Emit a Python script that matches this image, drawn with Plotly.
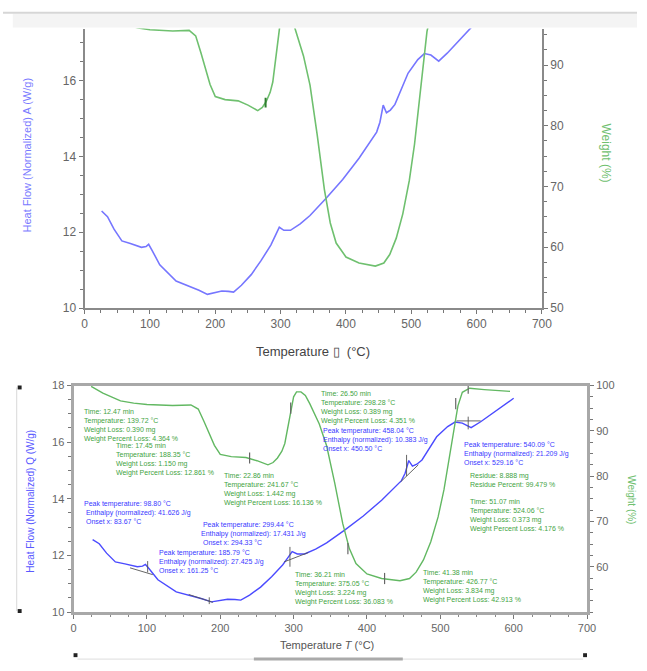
import plotly.graph_objects as go

FIG_W, FIG_H = 647, 671

# ---------------- data ----------------
temp_heat = [26, 35, 45, 57, 70, 87, 94, 98, 103, 115, 140, 160, 175, 188, 200, 210, 220, 228,
             240, 255, 270, 285, 293, 298, 305, 315, 330, 345, 370, 395, 420, 447, 452, 457,
             462, 468, 475, 495, 510, 520, 530, 542, 555, 575, 600]
heat_flow = [12.56, 12.41, 12.08, 11.77, 11.70, 11.60, 11.62, 11.68, 11.53, 11.14, 10.71, 10.58,
             10.47, 10.36, 10.40, 10.45, 10.44, 10.42, 10.60, 10.88, 11.25, 11.66, 11.95, 12.13,
             12.05, 12.05, 12.22, 12.44, 12.90, 13.39, 13.95, 14.64, 14.90, 15.35, 15.15, 15.22,
             15.37, 16.19, 16.55, 16.71, 16.67, 16.51, 16.72, 17.10, 17.55]

temp_weight = [24, 40, 64, 82, 100, 135, 160, 170, 178, 185, 192, 200, 215, 235, 250, 265, 272,
               278, 284, 288, 292, 296, 300, 304, 310, 316, 322, 335, 345, 356, 367, 376, 385,
               400, 420, 445, 458, 467, 477, 487, 497, 505, 512, 518, 524, 530, 540, 560, 595]
weight_pct = [99.8, 98.3, 96.6, 96.1, 95.8, 95.6, 95.7, 94.8, 92.0, 89.4, 86.8, 84.8, 84.3, 84.1,
              83.4, 82.5, 83.0, 84.0, 85.5, 87.2, 90.5, 94.5, 97.5, 98.6, 98.6, 97.8, 96.0, 91.5,
              86.7, 78.5, 69.5, 64.0, 60.7, 58.4, 57.4, 56.9, 57.4, 58.8, 61.5, 65.5, 71.0, 77.0,
              83.5, 90.0, 95.5, 98.5, 99.4, 99.1, 98.7]

temp_ticks = [0, 100, 200, 300, 400, 500, 600, 700]
hf_ticks_top = [10, 12, 14, 16]
hf_ticks_bottom = [10, 12, 14, 16, 18]
wt_ticks_top = [50, 60, 70, 80, 90]
wt_ticks_bottom = [60, 70, 80, 90, 100]

# analysis markers on the TGA curve
tga_mark_temp = [240, 296, 374, 424, 521, 538]
tga_mark_wt = [84.0, 95.0, 64.0, 57.4, 96.0, 99.4]
tga_mark_top_temp = [277]
tga_mark_top_wt = [83.8]

# DSC tangent / baseline construction segments
dsc_tan_temp = [77, 108, None, 101, 101, None, 157, 190, None, 185, 185, None,
                287, 320, None, 295, 295, None, 446, 470, None, 454, 454, None,
                522, 555, None, 538, 538]
dsc_tan_hf = [11.56, 11.32, None, 11.80, 11.40, None, 10.62, 10.34, None, 10.52, 10.28, None,
              11.77, 12.10, None, 12.30, 11.60, None, 14.60, 15.20, None, 15.55, 14.80, None,
              16.75, 16.75, None, 16.90, 16.45]

tga_labels = [
    "Time: 12.47 min<br>Temperature: 139.72 °C<br>Weight Loss: 0.390 mg<br>Weight Percent Loss: 4.364 %",
    "Time: 17.45 min<br>Temperature: 188.35 °C<br>Weight Loss: 1.150 mg<br>Weight Percent Loss: 12.861 %",
    "Time: 22.86 min<br>Temperature: 241.67 °C<br>Weight Loss: 1.442 mg<br>Weight Percent Loss: 16.136 %",
    "Time: 26.50 min<br>Temperature: 298.28 °C<br>Weight Loss: 0.389 mg<br>Weight Percent Loss: 4.351 %",
    "Time: 36.21 min<br>Temperature: 375.05 °C<br>Weight Loss: 3.224 mg<br>Weight Percent Loss: 36.083 %",
    "Time: 41.38 min<br>Temperature: 426.77 °C<br>Weight Loss: 3.834 mg<br>Weight Percent Loss: 42.913 %",
    "Residue: 8.888 mg<br>Residue Percent: 99.479 %",
    "Time: 51.07 min<br>Temperature: 524.06 °C<br>Weight Loss: 0.373 mg<br>Weight Percent Loss: 4.176 %",
]
dsc_labels = [
    "Peak temperature: 98.80 °C<br> Enthalpy (normalized): 41.626 J/g<br> Onset x: 83.67 °C",
    "Peak temperature: 185.79 °C<br>Enthalpy (normalized): 27.425 J/g<br>Onset x: 161.25 °C",
    " Peak temperature: 299.44 °C<br>Enthalpy (normalized): 17.431 J/g<br> Onset x: 294.33 °C",
    "Peak temperature: 458.04 °C<br>Enthalpy (normalized): 10.383 J/g<br>Onset x: 450.50 °C",
    "Peak temperature: 540.09 °C<br>Enthalpy (normalized): 21.209 J/g<br>Onset x: 529.16 °C",
]

# ---------------- layout helpers ----------------
def px(x):
    return x / FIG_W

def py(y):
    return 1 - y / FIG_H

tga_pos = [(81, 408), (113, 443), (223, 473), (322, 390), (296, 574), (427, 572), (475, 473), (475, 500)]
dsc_pos = [(81, 502), (157, 552), (200, 523), (325, 427), (468, 442)]

BLUE_T = "#7676ff"
GREEN_T = "#6fc06f"
BLUE_B = "#4b4bff"
GREEN_B = "#62b862"
TXT_G = "#3fa33f"
TXT_B = "#3a3aff"
FONT = "Liberation Sans, Arial, sans-serif"

fig = go.Figure()

# top chart
fig.add_trace(go.Scatter(x=temp_heat, y=heat_flow, mode="lines", xaxis="x", yaxis="y",
                         line=dict(color=BLUE_T, width=1.6), showlegend=False))
fig.add_trace(go.Scatter(x=temp_weight, y=weight_pct, mode="lines", xaxis="x", yaxis="y2",
                         line=dict(color=GREEN_T, width=1.6), showlegend=False))
fig.add_trace(go.Scatter(x=tga_mark_top_temp, y=tga_mark_top_wt, mode="markers", xaxis="x", yaxis="y2",
                         marker=dict(symbol="line-ns", size=7, line=dict(color="#2e7d2e", width=2)),
                         showlegend=False))

# bottom chart
fig.add_trace(go.Scatter(x=temp_heat, y=heat_flow, mode="lines", xaxis="x2", yaxis="y3",
                         line=dict(color=BLUE_B, width=1.4), showlegend=False))
fig.add_trace(go.Scatter(x=dsc_tan_temp, y=dsc_tan_hf, mode="lines", xaxis="x2", yaxis="y3",
                         line=dict(color="#555555", width=0.9), connectgaps=False, showlegend=False))
fig.add_trace(go.Scatter(x=temp_weight, y=weight_pct, mode="lines", xaxis="x2", yaxis="y4",
                         line=dict(color=GREEN_B, width=1.4), showlegend=False))
fig.add_trace(go.Scatter(x=tga_mark_temp, y=tga_mark_wt, mode="markers", xaxis="x2", yaxis="y4",
                         marker=dict(symbol="line-ns", size=8, line=dict(color="#666666", width=1.2)),
                         showlegend=False))

tick_font_top = dict(family=FONT, size=12, color="#666666")
tick_font_bot = dict(family=FONT, size=11, color="#666666")

def axis_common(font, linew, linecol):
    return dict(showgrid=False, zeroline=False, showline=True, linecolor=linecol, linewidth=linew,
                ticks="outside", ticklen=4, tickwidth=1, tickcolor="#777777", tickfont=font)

top_dom = [py(308), py(23)]
bot_dom = [py(618), py(387)]

fig.update_layout(
    autosize=True, margin=dict(l=0, r=0, t=0, b=0),
    paper_bgcolor="white", plot_bgcolor="white",
    xaxis=dict(domain=[px(83.3), px(550)], range=[0, 700], anchor="y", tickvals=temp_ticks,
               minor=dict(dtick=25, ticks="outside", ticklen=3, tickcolor="#777777"),
               **axis_common(tick_font_top, 2, "#8a8a8a")),
    yaxis=dict(domain=top_dom, range=[10, 17.37], anchor="x", tickvals=hf_ticks_top,
               minor=dict(dtick=0.5, ticks="outside", ticklen=3, tickcolor="#777777"),
               **axis_common(tick_font_top, 2, "#8a8a8a")),
    yaxis2=dict(overlaying="y", side="right", range=[50, 96], anchor="x", tickvals=wt_ticks_top,
                minor=dict(dtick=2.5, ticks="outside", ticklen=3, tickcolor="#777777"),
                **axis_common(tick_font_top, 2, "#8a8a8a")),
    xaxis2=dict(domain=[px(72), px(596)], range=[0, 700], anchor="y3", tickvals=temp_ticks,
                mirror=True,
                minor=dict(dtick=25, ticks="outside", ticklen=2, tickcolor="#888888"),
                **axis_common(tick_font_bot, 3, "#a8a8a8")),
    yaxis3=dict(domain=bot_dom, range=[10, 18], anchor="x2", tickvals=hf_ticks_bottom,
                minor=dict(dtick=0.5, ticks="outside", ticklen=3, tickcolor="#777777"),
                **axis_common(tick_font_bot, 3, "#a8a8a8")),
    yaxis4=dict(overlaying="y3", side="right", range=[50, 100], anchor="x2", tickvals=wt_ticks_bottom,
                minor=dict(dtick=2.5, ticks="outside", ticklen=3, tickcolor="#777777"),
                **axis_common(tick_font_bot, 3, "#a8a8a8")),
)

ann = []
# axis titles (explicitly centred)
titles = [
    (316, 352, "Temperature \u25af  (°C)", 0, 13, "#444444"),
    (25, 152, "Heat Flow (Normalized) A (W/g)", -90, 11, "#7a7aff"),
    (615, 150, "Weight (%)", 90, 12, "#6fc06f"),
    (331, 652, "Temperature <i>T</i> (°C)", 0, 11, "#555555"),
    (28, 505, "Heat Flow (Normalized) Q (W/g)", -90, 10, "#5a5aff"),
    (642, 503, "Weight (%)", 90, 10, "#6fc06f"),
]
for x, y, txt, ang, size, col in titles:
    ann.append(dict(x=px(x), y=py(y), text=txt, textangle=ang, showarrow=False,
                    xanchor="center", yanchor="middle",
                    font=dict(family=FONT, size=size, color=col)))

for txt, (x, y) in zip(tga_labels, tga_pos):
    ann.append(dict(x=px(x), y=py(y), text=txt, showarrow=False, xanchor="left", yanchor="top",
                    align="left", font=dict(family=FONT, size=7, color=TXT_G)))
for txt, (x, y) in zip(dsc_labels, dsc_pos):
    ann.append(dict(x=px(x), y=py(y), text=txt, showarrow=False, xanchor="left", yanchor="top",
                    align="left", font=dict(family=FONT, size=7, color=TXT_B)))
for a in ann:
    a.update(xref="paper", yref="paper")
fig.update_layout(annotations=ann)

# page decorations (screenshot frame, selection handles)
shapes = [
    dict(type="rect", x0=px(10), x1=1, y0=py(22), y1=py(8), fillcolor="#f4f4f4", line=dict(width=0), layer="below"),
    dict(type="line", x0=0, x1=1, y0=py(7), y1=py(7), line=dict(color="#d6d6d6", width=2)),
    dict(type="line", x0=px(14), x1=px(14), y0=py(617), y1=py(389), line=dict(color="#d8d8d8", width=1)),
    dict(type="rect", x0=px(15), x1=px(19), y0=py(391), y1=py(387), fillcolor="#222222", line=dict(width=0)),
    dict(type="rect", x0=px(15), x1=px(19), y0=py(619), y1=py(615), fillcolor="#222222", line=dict(width=0)),
    dict(type="line", x0=px(76), x1=px(592), y0=py(666), y1=py(666), line=dict(color="#dddddd", width=1)),
    dict(type="line", x0=px(256), x1=px(408), y0=py(666), y1=py(666), line=dict(color="#aaaaaa", width=3)),
    dict(type="rect", x0=px(72), x1=px(76), y0=py(664), y1=py(660), fillcolor="#222222", line=dict(width=0)),
    dict(type="rect", x0=px(592), x1=px(596), y0=py(664), y1=py(660), fillcolor="#222222", line=dict(width=0)),
]
for s in shapes:
    s.update(xref="paper", yref="paper")
fig.update_layout(shapes=shapes)

fig.write_html("out.html", config={"displayModeBar": False, "responsive": True},
               default_width="100vw", default_height="100vh",
               post_script="document.body.style.margin='0px';document.body.style.overflow='hidden';")
